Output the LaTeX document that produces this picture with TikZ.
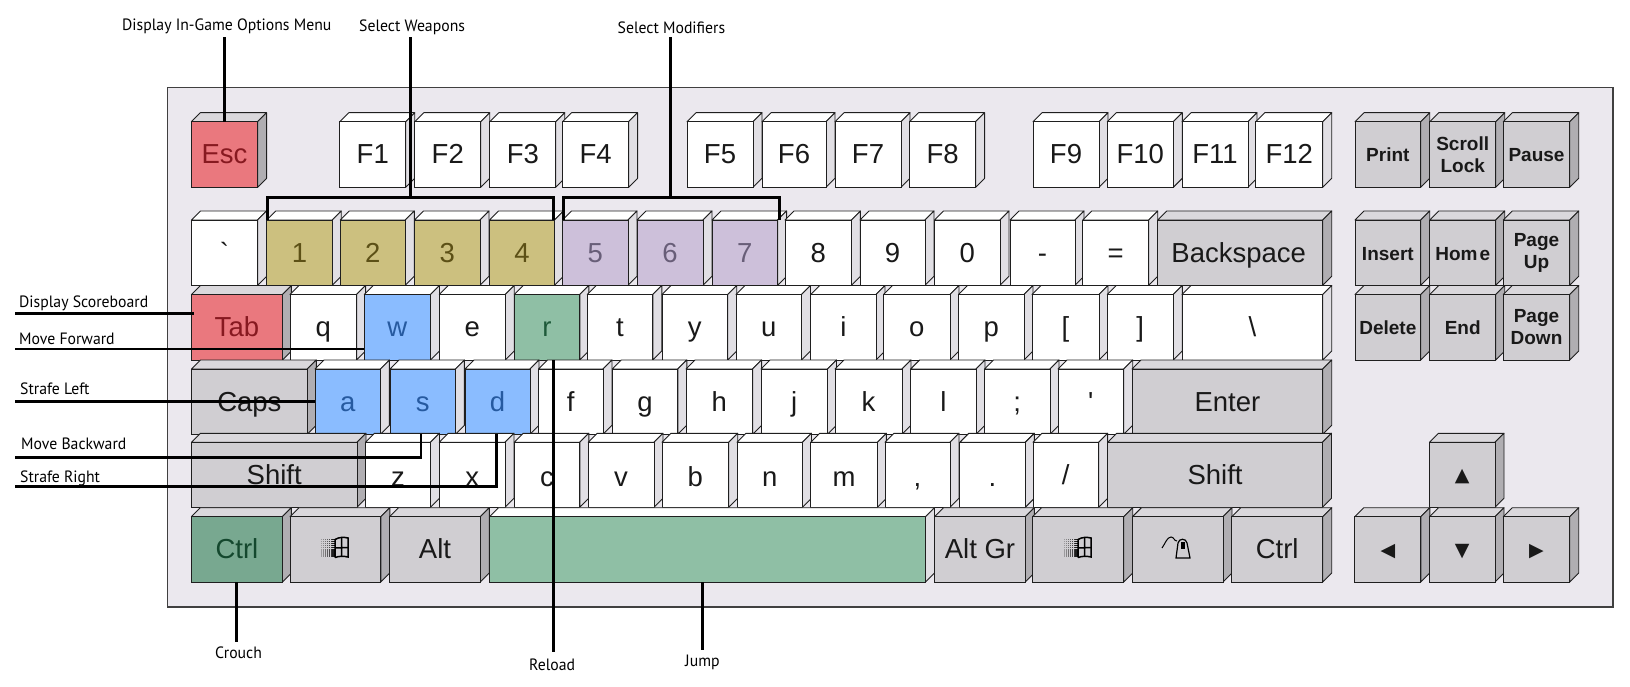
\documentclass[tikz,border=0pt]{standalone}
\usepackage{fontspec}
\newfontfamily\keyfont{Liberation Sans}
\newfontfamily\symfont{DejaVu Sans}
\newfontfamily\notefont[FakeStretch=0.96]{PT Sans}
\definecolor{boardbg}{HTML}{EBE8EE}
\definecolor{kbmouse}{HTML}{D0CED2}
\definecolor{topWh}{HTML}{FFFFFF}\definecolor{sideWh}{HTML}{E1DFE4}
\definecolor{topGy}{HTML}{DAD8DC}\definecolor{sideGy}{HTML}{B0AEB2}
\colorlet{topRd}{topGy}\colorlet{sideRd}{sideGy}
\colorlet{topDg}{topGy}\colorlet{sideDg}{sideGy}
\colorlet{topYl}{topWh}\colorlet{sideYl}{sideWh}
\colorlet{topPu}{topWh}\colorlet{sidePu}{sideWh}
\colorlet{topBl}{topWh}\colorlet{sideBl}{sideWh}
\colorlet{topGn}{topWh}\colorlet{sideGn}{sideWh}
\colorlet{edge}{black!88}
\tikzset{
  keybase/.style={rectangle,draw=edge,line width=0.9pt,inner sep=0pt,outer sep=0pt,
    text height=20pt,text depth=1pt,font=\keyfont\fontsize{27.5}{30}\selectfont},
  kWh/.style={keybase,fill=white,text=black!90},
  kGy/.style={keybase,fill={rgb,255:red,208;green,206;blue,210},text=black!90},
  kRd/.style={keybase,fill={rgb,255:red,234;green,120;blue,126},text={rgb,255:red,135;green,25;blue,32}},
  kDg/.style={keybase,fill={rgb,255:red,120;green,168;blue,144},text={rgb,255:red,20;green,72;blue,46}},
  kYl/.style={keybase,fill={rgb,255:red,204;green,192;blue,127},text={rgb,255:red,92;green,80;blue,22}},
  kPu/.style={keybase,fill={rgb,255:red,205;green,192;blue,218},text={rgb,255:red,104;green,94;blue,120}},
  kBl/.style={keybase,fill={rgb,255:red,138;green,188;blue,255},text={rgb,255:red,38;green,90;blue,160}},
  kGn/.style={keybase,fill={rgb,255:red,143;green,191;blue,165},text={rgb,255:red,30;green,90;blue,58}},
  low/.style={text height=24pt,text depth=1pt},
  small/.style={font=\keyfont\bfseries\fontsize{19}{22}\selectfont,text height=15pt,text depth=0pt},
  twoline/.style={font=\keyfont\bfseries\fontsize{19}{22}\selectfont,text height=,text depth=,align=center},
  sym/.style={font=\symfont\fontsize{19}{22}\selectfont,text height=14pt,text depth=0pt},
  note/.style={inner sep=0pt,font=\notefont\fontsize{16.4}{18}\selectfont,text=black},
  conn/.style={line width=2.8pt,black,line cap=butt,line join=miter},
  facet/.style={draw=edge,line width=0.9pt,line join=round}
}
% name, left, top, right, bottom, family, options, label
\newcommand\kk[8]{%
  \filldraw[facet,fill=top#6] (#2,#3) -- (#2+9,#3-9) -- (#4+9,#3-9) -- (#4,#3) -- cycle;
  \filldraw[facet,fill=side#6] (#4,#3) -- (#4+9,#3-9) -- (#4+9,#5-9) -- (#4,#5) -- cycle;
  \node[k#6,#7,minimum width={#4-#2},minimum height={#5-#3}] (#1) at ({(#2+#4)/2},{(#3+#5)/2}) {#8};
}
\newcommand\winicon[1]{%
  \begin{scope}[shift={(#1)}]
    \foreach \i in {0,...,7} \foreach \j in {0,...,9}
      \fill[black,opacity={0.25+0.1*\i}] (-14+1.9*\i,-9+1.9*\j) rectangle ++(1.3,1.3);
    \draw[black,line width=1.5pt] (0,-8.5) -- (0,9.5) (0,-8.5) .. controls (4,-11) and (9,-11) .. (13,-10) -- (13,9) .. controls (9,8) and (4,8) .. (0,9.5);
    \draw[black,line width=1.5pt] (6.5,-10) -- (6.5,8.5) (0,0) -- (13,-0.5);
  \end{scope}}
\begin{document}
\begin{tikzpicture}[x=1pt,y=-1pt]
\useasboundingbox (0,0) rectangle (1630,687);
\fill[white] (0,0) rectangle (1630,687);
\node[rectangle,draw=black!75,line width=1.3pt,fill=boardbg,inner sep=0pt,outer sep=0pt,minimum width=1445.8pt,minimum height=519.3pt] (board) at (890.1,347.35) {};
% row 0
\def\t{121.7}\def\b{187.3}
\kk{kEsc}{191.4}{\t}{257.6}{\b}{Rd}{}{Esc}
\kk{kFa}{339.8}{\t}{405.7}{\b}{Wh}{}{F1}
\kk{kFb}{414.8}{\t}{480.7}{\b}{Wh}{}{F2}
\kk{kFc}{489.9}{\t}{555.7}{\b}{Wh}{}{F3}
\kk{kFd}{562.6}{\t}{628.6}{\b}{Wh}{}{F4}
\kk{kFe}{687}{\t}{753}{\b}{Wh}{}{F5}
\kk{kFf}{762}{\t}{826}{\b}{Wh}{}{F6}
\kk{kFg}{835}{\t}{901}{\b}{Wh}{}{F7}
\kk{kFh}{909.6}{\t}{975.6}{\b}{Wh}{}{F8}
\kk{kFi}{1033}{\t}{1099}{\b}{Wh}{}{F9}
\kk{kFj}{1107.3}{\t}{1173.3}{\b}{Wh}{}{F10}
\kk{kFk}{1182}{\t}{1248}{\b}{Wh}{}{F11}
\kk{kFl}{1255.7}{\t}{1322.7}{\b}{Wh}{}{F12}
\kk{kPrint}{1355}{\t}{1420.7}{\b}{Gy}{small}{Print}
\kk{kScroll}{1429.7}{\t}{1495.7}{\b}{Gy}{twoline}{Scroll\\Lock}
\kk{kPause}{1503.3}{\t}{1569.7}{\b}{Gy}{small}{Pause}
% row 1
\def\t{220}\def\b{285.3}
\kk{kGrave}{191.4}{\t}{257.6}{\b}{Wh}{}{\char96}
\kk{kOne}{266.7}{\t}{332.2}{\b}{Yl}{}{1}
\kk{kTwo}{340.2}{\t}{405.3}{\b}{Yl}{}{2}
\kk{kThree}{414.5}{\t}{480}{\b}{Yl}{}{3}
\kk{kFour}{489.5}{\t}{554.5}{\b}{Yl}{}{4}
\kk{kFive}{562.6}{\t}{628}{\b}{Pu}{}{5}
\kk{kSix}{637}{\t}{703}{\b}{Pu}{}{6}
\kk{kSeven}{712}{\t}{777.6}{\b}{Pu}{}{7}
\kk{kEight}{785}{\t}{851.4}{\b}{Wh}{}{8}
\kk{kNine}{860}{\t}{925}{\b}{Wh}{}{9}
\kk{kZero}{934.5}{\t}{1000}{\b}{Wh}{}{0}
\kk{kMinus}{1010}{\t}{1075}{\b}{Wh}{}{-}
\kk{kEq}{1082.7}{\t}{1148.7}{\b}{Wh}{}{=}
\kk{kBack}{1157.7}{\t}{1322.7}{\b}{Gy}{}{Backspace\kern3pt}
\kk{kIns}{1355}{\t}{1420.7}{\b}{Gy}{small}{Insert}
\kk{kHome}{1429.7}{\t}{1495.7}{\b}{Gy}{small}{Hom\kern2pt e}
\kk{kPgUp}{1503.3}{\t}{1569.7}{\b}{Gy}{twoline}{Page\\Up}
% row 2
\def\t{294.5}\def\b{360}
\kk{kTab}{191.4}{\t}{282.4}{\b}{Rd}{}{Tab}
\kk{kq}{290}{\t}{356.6}{\b}{Wh}{}{q}
\kk{kw}{364.3}{\t}{430.5}{\b}{Bl}{}{w}
\kk{ke}{439.3}{\t}{505.2}{\b}{Wh}{}{e}
\kk{kr}{514.3}{\t}{579.8}{\b}{Gn}{}{r}
\kk{kt}{587.3}{\t}{652.8}{\b}{Wh}{}{t}
\kk{ky}{662}{\t}{727.7}{\b}{Wh}{}{y}
\kk{ku}{736}{\t}{801.5}{\b}{Wh}{}{u}
\kk{ki}{810.8}{\t}{876}{\b}{Wh}{}{i}
\kk{ko}{883.6}{\t}{950}{\b}{Wh}{}{o}
\kk{kp}{958.4}{\t}{1024}{\b}{Wh}{}{p}
\kk{kLb}{1032}{\t}{1099}{\b}{Wh}{}{[}
\kk{kRb}{1107.3}{\t}{1173.3}{\b}{Wh}{}{]}
\kk{kBs}{1182}{\t}{1322.7}{\b}{Wh}{}{\char92}
\kk{kDel}{1355}{\t}{1420.7}{\b}{Gy}{small}{Delete}
\kk{kEnd}{1429.7}{\t}{1495.7}{\b}{Gy}{small}{End}
\kk{kPgDn}{1503.3}{\t}{1569.7}{\b}{Gy}{twoline}{Page\\Down}
% row 3
\def\t{369}\def\b{434.3}
\kk{kCaps}{191.4}{\t}{307.3}{\b}{Gy}{}{Caps}
\kk{ka}{315}{\t}{380.4}{\b}{Bl}{}{a}
\kk{ks}{390}{\t}{455.4}{\b}{Bl}{}{s}
\kk{kd}{465}{\t}{530}{\b}{Bl}{}{d}
\kk{kf}{538.5}{\t}{603}{\b}{Wh}{}{f}
\kk{kg}{612.3}{\t}{677.8}{\b}{Wh}{}{g}
\kk{kh}{686}{\t}{752.6}{\b}{Wh}{}{h}
\kk{kj}{761}{\t}{827.5}{\b}{Wh}{}{j}
\kk{kk}{835}{\t}{902}{\b}{Wh}{}{k}
\kk{kl}{910.6}{\t}{976}{\b}{Wh}{}{l}
\kk{kSemi}{984.4}{\t}{1050}{\b}{Wh}{}{;}
\kk{kQuote}{1058}{\t}{1123.7}{\b}{Wh}{}{\char39}
\kk{kEnter}{1132}{\t}{1322.7}{\b}{Gy}{}{Enter}
% row 4
\def\t{442.3}\def\b{507.3}
\kk{kShiftL}{191.4}{\t}{357}{\b}{Gy}{}{Shift}
\kk{kz}{365.5}{\t}{430.5}{\b}{Wh}{low}{z}
\kk{kx}{439.3}{\t}{505}{\b}{Wh}{low}{x}
\kk{kc}{514.3}{\t}{579.8}{\b}{Wh}{low}{c}
\kk{kv}{588.2}{\t}{654}{\b}{Wh}{low}{v}
\kk{kb}{662}{\t}{728.7}{\b}{Wh}{low}{b}
\kk{kn}{737}{\t}{802.5}{\b}{Wh}{low}{n}
\kk{km}{810.8}{\t}{877.4}{\b}{Wh}{low}{m}
\kk{kComma}{885}{\t}{950}{\b}{Wh}{low}{,}
\kk{kDot}{959.8}{\t}{1025.3}{\b}{Wh}{low}{.}
\kk{kSlash}{1033}{\t}{1098.6}{\b}{Wh}{}{/}
\kk{kShiftR}{1107.7}{\t}{1322.5}{\b}{Gy}{}{Shift}
\kk{kUp}{1429.5}{\t}{1495}{\b}{Gy}{sym}{▲}
% row 5
\def\t{516.7}\def\b{582}
\kk{kCtrlL}{191.4}{\t}{282.4}{\b}{Dg}{}{Ctrl}
\kk{kWinL}{290}{\t}{380.8}{\b}{Gy}{}{}
\kk{kAlt}{389.6}{\t}{480.3}{\b}{Gy}{}{Alt}
\kk{kSpace}{489.5}{\t}{925.5}{\b}{Gn}{}{}
\kk{kAltGr}{934.6}{\t}{1025.3}{\b}{Gy}{}{Alt Gr}
\kk{kWinR}{1032.6}{\t}{1123.7}{\b}{Gy}{}{}
\kk{kMenu}{1132.4}{\t}{1223}{\b}{Gy}{}{}
\kk{kCtrlR}{1231.7}{\t}{1322.7}{\b}{Gy}{}{Ctrl}
\kk{kLeft}{1354.8}{\t}{1420.8}{\b}{Gy}{sym}{◀}
\kk{kDown}{1429.5}{\t}{1495}{\b}{Gy}{sym}{▼}
\kk{kRight}{1503.3}{\t}{1569.7}{\b}{Gy}{sym}{▶}
% key icons
\winicon{335,548}
\winicon{1078,548}
\draw[black,line width=1pt] (1162,548) .. controls (1165,544) and (1167,537) .. (1171,537) .. controls (1174,537) and (1174,541) .. (1177,541);
\draw[black,line width=1.2pt,fill=kbmouse] (1176,558) -- (1178,543) .. controls (1179,538) and (1186,538) .. (1187,543) -- (1190,558) -- cycle;
\fill[black] (1180.5,542) rectangle (1185,548.5);
% labels
\node[note,anchor=west] (lOpt) at (122,26.5) {Display In-Game Options Menu};
\node[note,anchor=west] (lWeap) at (359,27.5) {Select Weapons};
\node[note,anchor=west] (lMod) at (617.5,27.5) {Select Modifiers};
\node[note,anchor=west] (lScore) at (19,303) {Display Scoreboard};
\node[note,anchor=west] (lFwd) at (19,339) {Move Forward};
\node[note,anchor=west] (lLeft) at (20,389) {Strafe Left};
\node[note,anchor=west] (lBack) at (21,444) {Move Backward};
\node[note,anchor=west] (lRight) at (20,478) {Strafe Right};
\node[note,anchor=west] (lCrouch) at (215,652.5) {Crouch};
\node[note,anchor=west] (lReload) at (529,664.5) {Reload};
\node[note,anchor=west] (lJump) at (685,662) {Jump};
% connector free ends
\coordinate (eOpt) at (224.6,37.3);
\coordinate (eWeap) at (410.6,37.3);
\coordinate (bWeap) at (410.6,197.3);
\coordinate (eMod) at (670.5,37.3);
\coordinate (bMod) at (670.5,197.3);
\coordinate (eScore) at (15.3,313.3);
\coordinate (eFwd) at (15.3,349);
\coordinate (eLeft) at (15.3,401.7);
\coordinate (eBack) at (15.3,457.3);
\coordinate (eRight) at (15.3,486.7);
\coordinate (cBack) at (421,457.3);
\coordinate (cRight) at (496.4,486.7);
\coordinate (eCrouch) at (236.5,641.7);
\coordinate (eReload) at (553.4,651.7);
\coordinate (eJump) at (702.7,649.7);
% connectors
\draw[conn] (eOpt) -- (eOpt |- kEsc.north);
\draw[conn] (eWeap) -- (bWeap);
\draw[conn] ([xshift=0.8pt]kOne.north west) -- ([xshift=0.8pt]kOne.north west |- bWeap) -- ([xshift=-0.7pt]kFour.north east |- bWeap) -- ([xshift=-0.7pt]kFour.north east);
\draw[conn] (eMod) -- (bMod);
\draw[conn] ([xshift=0.7pt]kFive.north west) -- ([xshift=0.7pt]kFive.north west |- bMod) -- ([xshift=2pt]kSeven.north east |- bMod) -- ([xshift=2pt]kSeven.north east);
\draw[conn] (eScore) -- (eScore -| kTab.west) -- ++(3,0);
\draw[conn] (eFwd) -- (eFwd -| kw.west);
\draw[conn] (eLeft) -- (eLeft -| ka.west);
\draw[conn] (eBack) -- (cBack) -- (cBack |- ks.south);
\draw[conn] (eRight) -- (cRight) -- (cRight |- kd.south);
\draw[conn] (eCrouch) -- (eCrouch |- kCtrlL.south);
\draw[conn] (eReload) -- (eReload |- kr.south);
\draw[conn] (eJump) -- (eJump |- kSpace.south);
\end{tikzpicture}
\end{document}
